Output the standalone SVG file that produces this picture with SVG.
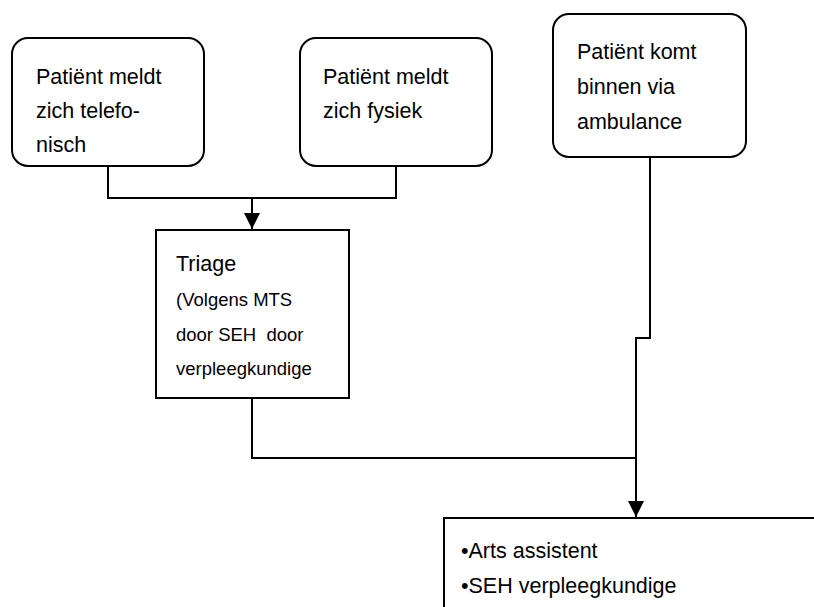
<svg xmlns="http://www.w3.org/2000/svg" width="814" height="607" viewBox="0 0 814 607">
  <style>
    .box { fill: #ffffff; stroke: #000000; stroke-width: 2; }
    .wire { fill: none; stroke: #000000; stroke-width: 2; }
    .t { font-family: "Liberation Sans", Arial, sans-serif; font-size: 21.5px; fill: #000000; white-space: pre; }
    .s { font-family: "Liberation Sans", Arial, sans-serif; font-size: 18.5px; fill: #000000; white-space: pre; }
  </style>
  <defs>
    <marker id="arrow" markerUnits="userSpaceOnUse" markerWidth="16" markerHeight="16" refX="16" refY="8" orient="auto">
      <path d="M0,0 L16,8 L0,16 Z" fill="#000000"/>
    </marker>
  </defs>
  <rect width="814" height="607" fill="#ffffff"/>

  <g id="connectors">
    <path class="wire" d="M108,166 V198 H396 V166"/>
    <path class="wire" d="M252,198 V229" marker-end="url(#arrow)"/>
    <path class="wire" d="M252,398 V458 H636"/>
    <path class="wire" d="M650,157 V338 H636 V517" marker-end="url(#arrow)"/>
  </g>

  <g id="telefonisch">
    <rect class="box" x="12" y="38" width="192" height="128" rx="16"/>
    <text class="t" x="36" y="84">Patiënt meldt</text>
    <text class="t" x="36" y="118">zich telefo-</text>
    <text class="t" x="36" y="152">nisch</text>
  </g>

  <g id="fysiek">
    <rect class="box" x="300" y="38" width="192" height="128" rx="16"/>
    <text class="t" x="323" y="84">Patiënt meldt</text>
    <text class="t" x="323" y="118">zich fysiek</text>
  </g>

  <g id="ambulance">
    <rect class="box" x="553" y="14" width="193" height="143" rx="16"/>
    <text class="t" x="577" y="59">Patiënt komt</text>
    <text class="t" x="577" y="94">binnen via</text>
    <text class="t" x="577" y="129">ambulance</text>
  </g>

  <g id="triage">
    <rect class="box" x="156" y="230" width="193" height="168"/>
    <text class="t" x="176" y="271">Triage</text>
    <text class="s" x="176" y="306">(Volgens MTS</text>
    <text class="s" x="176" y="341" xml:space="preserve">door SEH  door</text>
    <text class="s" x="176" y="375">verpleegkundige</text>
  </g>

  <g id="team">
    <rect class="box" x="444" y="518" width="400" height="120"/>
    <text class="t" x="461" y="558">•Arts assistent</text>
    <text class="t" x="461" y="593">•SEH verpleegkundige</text>
  </g>
</svg>
